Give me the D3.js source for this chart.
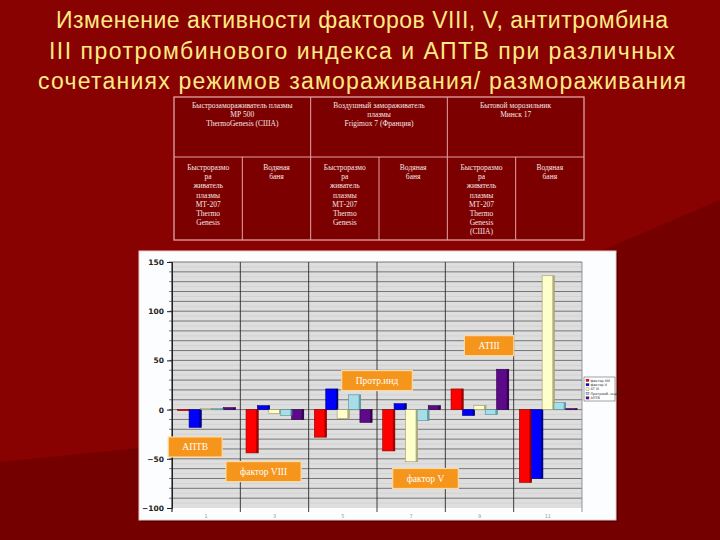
<!DOCTYPE html>
<html>
<head>
<meta charset="utf-8">
<script src="https://cdn.jsdelivr.net/npm/d3@7"></script>
<style>
  body { margin: 0; background: #760000; }
  svg { display: block; }
</style>
</head>
<body>
<div id="slide"></div>
<script>
// categories (columns of the table) and x tick labels
const groups = ["1", "3", "5", "7", "9", "11"];
// series
const seriesNames = ["фактор VIII", "фактор V", "АТ III", "Протромб. индекс", "АПТВ"];
const factorVIII = [-1, -44, -28, -42, 21, -74];
const factorV    = [-18, 4, 21, 6, -6, -70];
const antithrombin = [1, -4, -9, -53, 4, 136];
const ptIndex    = [1, -6, 15, -11, -5, 7];
const aptv       = [2, -10, -13, 4, 41, 1];
const yTicks = [-100, -50, 0, 50, 100, 150];

const seriesColors = ["#ff0000", "#0000ff", "#ffffcc", "#a6dde6", "#5c0a8a"];
const edgeColors   = ["#8a0000", "#00006e", "#9b9a6a", "#4f8f99", "#2a0040"];

// callouts placed in data space: [text, group position, value]
const callouts = [
  ["АТIII", 4.64, 65],
  ["Протр.инд", 3.0, 29.5],
  ["АПТВ", 0.34, -38],
  ["фактор VIII", 1.34, -63],
  ["фактор V", 3.71, -70]
];

const titleLines = [
  "Изменение активности  факторов VIII, V, антитромбина",
  "III  протромбинового индекса и    АПТВ при различных",
  "сочетаниях режимов замораживания/ размораживания"
];

const tableTop = [
  ["Быстрозамораживатель плазмы", "МР 500", "ThermoGenesis (США)"],
  ["Воздушный замораживатель", "плазмы", "Frigimox 7 (Франция)"],
  ["Бытовой морозильник", "Минск 17"]
];
const tableSub = [
  ["Быстроразмо", "ра", "живатель", "плазмы", "МТ-207", "Thermo", "Genesis"],
  ["Водяная", "баня"],
  ["Быстроразмо", "ра", "живатель", "плазмы", "МТ-207", "Thermo", "Genesis"],
  ["Водяная", "баня"],
  ["Быстроразмо", "ра", "живатель", "плазмы", "МТ-207", "Thermo", "Genesis", "(США)"],
  ["Водяная", "баня"]
];

const W = 720, H = 540;
const svg = d3.select("#slide").append("svg")
  .attr("width", W).attr("height", H);

// background
svg.append("rect").attr("width", W).attr("height", H).attr("fill", "#740000");
svg.append("path")
  .attr("d", "M0,0 L720,0 L720,200 L140,448 L0,462 Z")
  .attr("fill", "#880202");

// title
svg.append("g").selectAll("text")
  .data(titleLines)
  .join("text")
  .attr("x", 362)
  .attr("y", (d, i) => 28 + i * 30.5)
  .attr("text-anchor", "middle")
  .attr("textLength", (d, i) => [612, 626, 648][i])
  .attr("lengthAdjust", "spacing")
  .style("font-family", "Liberation Sans Narrow, Arial Narrow, Liberation Sans, sans-serif")
  .style("font-size", "23px")
  .style("fill", "#ffea85")
  .text(d => d);

// table
const tx = d3.scaleBand().domain(d3.range(6)).range([174, 584]);
const tTop = 97, tMid = 157, tBot = 240;
const table = svg.append("g");
table.append("rect")
  .attr("x", tx.range()[0]).attr("y", tTop)
  .attr("width", tx.range()[1] - tx.range()[0]).attr("height", tBot - tTop)
  .attr("fill", "#7c0000")
  .attr("stroke", "#e2a3a3").attr("stroke-width", 1.3);
table.append("line")
  .attr("x1", tx.range()[0]).attr("x2", tx.range()[1])
  .attr("y1", tMid).attr("y2", tMid)
  .attr("stroke", "#e2a3a3");
table.selectAll(".vline")
  .data(d3.range(1, 6))
  .join("line")
  .attr("x1", d => tx(d)).attr("x2", d => tx(d))
  .attr("y1", d => d % 2 === 0 ? tTop : tMid).attr("y2", tBot)
  .attr("stroke", "#e2a3a3");

const serif = "Liberation Serif, Times New Roman, serif";
tableTop.forEach((lines, c) => {
  table.append("g").selectAll("text")
    .data(lines).join("text")
    .attr("x", tx(c * 2) + tx.bandwidth())
    .attr("y", (d, i) => 108 + i * 9)
    .attr("text-anchor", "middle")
    .style("font-family", serif).style("font-size", "7.5px")
    .style("fill", "#f6e6e6")
    .text(d => d);
});
tableSub.forEach((lines, c) => {
  table.append("g").selectAll("text")
    .data(lines).join("text")
    .attr("x", tx(c) + tx.bandwidth() / 2)
    .attr("y", (d, i) => 170 + i * 9.2)
    .attr("text-anchor", "middle")
    .style("font-family", serif).style("font-size", "7.5px")
    .style("fill", "#f6e6e6")
    .text(d => d);
});

// chart panel
svg.append("rect")
  .attr("x", 141).attr("y", 253).attr("width", 477).attr("height", 269)
  .attr("fill", "#3a0000").attr("opacity", 0.6);
svg.append("rect")
  .attr("x", 139).attr("y", 251).attr("width", 477).attr("height", 269)
  .attr("fill", "#fcfdff").attr("stroke", "#f2c9c9").attr("stroke-width", 1);

const x0 = d3.scaleBand().domain(groups).range([172, 582]);
const x1 = d3.scaleBand().domain(d3.range(5)).range([0, x0.bandwidth()])
  .paddingInner(0).paddingOuter(0.5);
const y = d3.scaleLinear().domain([-100, 150]).range([508, 262]);
const xl = d3.scaleLinear().domain([0, groups.length]).range(x0.range());

const plot = svg.append("g");
plot.append("rect")
  .attr("x", 172).attr("y", y(150))
  .attr("width", 410).attr("height", y(-100) - y(150))
  .attr("fill", "#dedede");

// gridlines
plot.selectAll(".minor")
  .data(d3.range(-95, 150, 10))
  .join("line")
  .attr("x1", 172).attr("x2", 582)
  .attr("y1", d => y(d)).attr("y2", d => y(d))
  .attr("stroke", "#cbcbcb").attr("stroke-width", 0.6);
plot.selectAll(".grid")
  .data(d3.range(-90, 151, 10))
  .join("line")
  .attr("x1", 169).attr("x2", 582)
  .attr("y1", d => y(d)).attr("y2", d => y(d))
  .attr("stroke", "#5a5a5a").attr("stroke-width", 0.8);

// category separators
plot.selectAll(".sep")
  .data(d3.range(0, groups.length + 1))
  .join("line")
  .attr("x1", d => xl(d)).attr("x2", d => xl(d))
  .attr("y1", y(150))
  .attr("y2", y(-100) + 4)
  .attr("stroke", d => d === groups.length ? "#8a8a8a" : "#2a2a2a")
  .attr("stroke-width", d => d === 0 ? 1.2 : 0.9);

// bars
const series = [factorVIII, factorV, antithrombin, ptIndex, aptv];
const bars = [];
series.forEach((vals, s) => vals.forEach((v, g) => bars.push({s, g, v})));
const barG = plot.append("g");
const bw = x1.bandwidth() + 0.8;
barG.selectAll("rect.bar")
  .data(bars)
  .join("rect")
  .attr("class", "bar")
  .attr("x", d => x0(groups[d.g]) + x1(d.s))
  .attr("y", d => y(Math.max(0, d.v)))
  .attr("width", bw)
  .attr("height", d => Math.max(1, Math.abs(y(d.v) - y(0))))
  .attr("fill", d => seriesColors[d.s])
  .attr("stroke", d => edgeColors[d.s])
  .attr("stroke-width", 0.6);
barG.selectAll("rect.edge")
  .data(bars)
  .join("rect")
  .attr("class", "edge")
  .attr("x", d => x0(groups[d.g]) + x1(d.s) + bw - 2)
  .attr("y", d => y(Math.max(0, d.v)))
  .attr("width", 2)
  .attr("height", d => Math.max(1, Math.abs(y(d.v) - y(0))))
  .attr("fill", d => edgeColors[d.s])
  .attr("opacity", 0.8);

// y axis
const yAxis = plot.append("g")
  .attr("transform", "translate(172,0)")
  .call(d3.axisLeft(y).tickValues(yTicks).tickSize(5).tickFormat(d3.format("d")));
yAxis.select(".domain").attr("stroke", "#222");
yAxis.selectAll("line").attr("stroke", "#222");
yAxis.selectAll("text")
  .style("font-family", "DejaVu Sans, sans-serif")
  .style("font-size", "7.5px").style("font-weight", "bold")
  .style("fill", "#222");

// x tick labels
plot.selectAll(".xlab")
  .data(groups)
  .join("text")
  .attr("x", d => x0(d) + x0.bandwidth() / 2)
  .attr("y", 518)
  .attr("text-anchor", "middle")
  .style("font-family", "DejaVu Sans, sans-serif")
  .style("font-size", "5px")
  .style("fill", "#9a9a9a")
  .text(d => d);

// callouts
const co = plot.append("g").selectAll("g")
  .data(callouts)
  .join("g")
  .attr("transform", d => `translate(${xl(d[1])},${y(d[2])})`);
co.append("text")
  .attr("text-anchor", "middle")
  .attr("dy", "0.35em")
  .style("font-family", serif)
  .style("font-size", "9.5px")
  .style("fill", "#ffffff")
  .text(d => d[0]);
co.each(function() {
  const g = d3.select(this);
  const w = g.select("text").node().getComputedTextLength() + 28;
  g.insert("rect", "text")
    .attr("x", -w / 2).attr("y", -10)
    .attr("width", w).attr("height", 20)
    .attr("fill", "#f5951c")
    .attr("stroke", "#fcd9a0").attr("stroke-width", 1.2);
});

// legend
const lg = svg.append("g").attr("transform", "translate(584,377)");
lg.append("rect").attr("width", 31).attr("height", 24)
  .attr("fill", "#ffffff").attr("stroke", "#444").attr("stroke-width", 0.5);
const li = lg.selectAll("g.item")
  .data(seriesNames)
  .join("g")
  .attr("transform", (d, i) => `translate(2,${3.5 + i * 4.4})`);
li.append("rect").attr("y", -1.4).attr("width", 3).attr("height", 2.4)
  .attr("fill", (d, i) => seriesColors[i]).attr("stroke", "#333").attr("stroke-width", 0.3);
li.append("text").attr("x", 4.5).attr("y", 1)
  .style("font-family", "DejaVu Sans, sans-serif")
  .style("font-size", "3.4px").style("fill", "#222")
  .text(d => d);
</script>
</body>
</html>
